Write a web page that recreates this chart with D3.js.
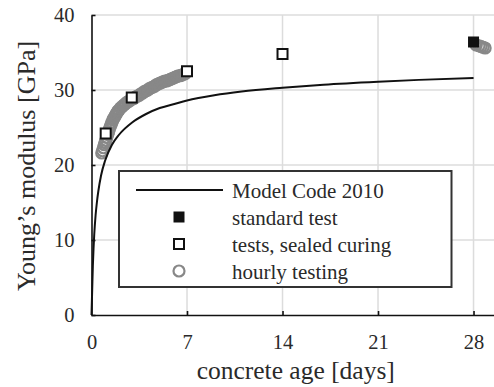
<!DOCTYPE html>
<html>
<head>
<meta charset="utf-8">
<script src="https://cdn.jsdelivr.net/npm/d3@7"></script>
<style>
  body { margin: 0; background: #fff; }
  svg { display: block; }
  text { font-family: "Liberation Serif", "Times New Roman", serif; fill: #2a2a2a; }
</style>
</head>
<body>
<div id="chart"></div>
<script>
// Model Code 2010 curve
const mcDays = [0, 0.05, 0.1, 0.15, 0.2, 0.3, 0.4, 0.5, 0.7, 1, 1.5, 2, 3, 4, 5, 6, 7, 9, 11, 14, 17, 21, 24, 28];
const mcE = [0, 3.3, 6.6, 8.9, 10.7, 13.3, 15.1, 16.5, 18.6, 20.6, 22.7, 24.0, 25.7, 26.8, 27.6, 28.1, 28.6, 29.3, 29.8, 30.3, 30.7, 31.1, 31.35, 31.6];

// standard test (filled square)
const stdDays = [28];
const stdE = [36.4];

// tests, sealed curing (open squares)
const sealedDays = [1.04, 2.95, 7, 14];
const sealedE = [24.2, 29.0, 32.5, 34.8];

// hourly testing (open circles)
const hourlyDays = [0.75, 0.81, 0.875, 0.94, 1.0, 1.06, 1.125, 1.19, 1.25, 1.31,
  1.375, 1.44, 1.5, 1.56, 1.625, 1.69, 1.75, 1.81, 1.875, 1.94,
  2.0, 2.125, 2.25, 2.375, 2.5, 2.625, 2.75, 2.875, 3.0, 3.125,
  3.25, 3.375, 3.5, 3.625, 3.75, 3.875, 4.0, 4.125, 4.25, 4.375,
  4.5, 4.625, 4.75, 4.875, 5.0, 5.125, 5.25, 5.375, 5.5, 5.625,
  5.75, 5.875, 6.0, 6.125, 6.25, 6.375, 6.5, 6.625, 6.75, 6.875,
  28.2, 28.4, 28.55, 28.7, 28.85];
const hourlyE = [21.6, 21.9, 22.3, 22.7, 23.0, 23.3, 23.7, 24.1, 24.4, 24.8,
  25.1, 25.4, 25.7, 26.0, 26.2, 26.4, 26.6, 26.8, 27.0, 27.2,
  27.3, 27.6, 27.8, 28.0, 28.2, 28.4, 28.5, 28.7, 28.8, 28.9,
  29.1, 29.2, 29.3, 29.5, 29.6, 29.8, 29.9, 30.0, 30.2, 30.3,
  30.4, 30.5, 30.7, 30.8, 30.9, 31.0, 31.1, 31.2, 31.2, 31.3,
  31.4, 31.5, 31.6, 31.7, 31.8, 31.9, 31.9, 32.0, 32.1, 32.2,
  36.0, 35.9, 35.8, 35.7, 35.6];

const xTicks = [0, 7, 14, 21, 28];
const yTicks = [0, 10, 20, 30, 40];
const legendLabels = ["Model Code 2010", "standard test", "tests, sealed curing", "hourly testing"];

const width = 494;
const height = 387;

const x = d3.scaleLinear().domain([0, 29.5]).range([91.5, 494]);
const y = d3.scaleLinear().domain([0, 40]).range([315, 15]);

const svg = d3.select("#chart")
  .append("svg")
  .attr("width", width)
  .attr("height", height);

// grid
svg.append("g")
  .selectAll("line")
  .data(xTicks.slice(1))
  .join("line")
  .attr("x1", d => x(d)).attr("x2", d => x(d))
  .attr("y1", y(40)).attr("y2", y(0))
  .attr("stroke", "#dcdcdc")
  .attr("stroke-width", 1.5);

svg.append("g")
  .selectAll("line")
  .data(yTicks.slice(1))
  .join("line")
  .attr("x1", x(0)).attr("x2", width)
  .attr("y1", d => y(d)).attr("y2", d => y(d))
  .attr("stroke", "#dcdcdc")
  .attr("stroke-width", 1.5);

// axes (ticks inside)
const xAxis = svg.append("g")
  .attr("transform", `translate(0,${y(0)})`)
  .call(d3.axisBottom(x).tickValues(xTicks).tickSize(-4).tickPadding(19).tickSizeOuter(0));

const yAxis = svg.append("g")
  .attr("transform", `translate(${x(0)},0)`)
  .call(d3.axisLeft(y).tickValues(yTicks).tickSize(-4).tickPadding(17).tickSizeOuter(0));

[xAxis, yAxis].forEach(ax => {
  ax.select(".domain").attr("stroke", "#111").attr("stroke-width", 1.6);
  ax.selectAll(".tick line").attr("stroke", "#111").attr("stroke-width", 1.6);
  ax.selectAll(".tick text")
    .style("font-family", "'Liberation Serif', serif")
    .style("font-size", "20.5px")
    .attr("fill", "#2a2a2a");
});
xAxis.select(".domain").attr("d", `M${x(0)},0.5H${width}`);
xAxis.select(".tick line").remove();

// hourly circles
svg.append("g")
  .selectAll("circle")
  .data(hourlyDays.map((d, i) => [d, hourlyE[i]]))
  .join("circle")
  .attr("cx", d => x(d[0]))
  .attr("cy", d => y(d[1]))
  .attr("r", 5.5)
  .attr("fill", "none")
  .attr("stroke", "#888")
  .attr("stroke-width", 2.2);

// model code curve
const line = d3.line()
  .x(d => x(d[0]))
  .y(d => y(d[1]))
  .curve(d3.curveMonotoneX);

svg.append("path")
  .datum(mcDays.map((d, i) => [d, mcE[i]]))
  .attr("d", line)
  .attr("fill", "none")
  .attr("stroke", "#111")
  .attr("stroke-width", 2);

// sealed curing squares
svg.append("g")
  .selectAll("rect")
  .data(sealedDays.map((d, i) => [d, sealedE[i]]))
  .join("rect")
  .attr("x", d => x(d[0]) - 5)
  .attr("y", d => y(d[1]) - 5)
  .attr("width", 10)
  .attr("height", 10)
  .attr("fill", "#fff")
  .attr("stroke", "#111")
  .attr("stroke-width", 2);

// standard test
svg.append("g")
  .selectAll("rect")
  .data(stdDays.map((d, i) => [d, stdE[i]]))
  .join("rect")
  .attr("x", d => x(d[0]) - 5.5)
  .attr("y", d => y(d[1]) - 5.5)
  .attr("width", 11)
  .attr("height", 11)
  .attr("fill", "#111");

// axis titles
svg.append("text")
  .attr("x", (x(0) + width) / 2 + 3)
  .attr("y", 379)
  .attr("text-anchor", "middle")
  .style("font-size", "25.5px")
  .text("concrete age [days]");

svg.append("text")
  .attr("transform", `translate(35,${(y(0) + y(40)) / 2 + 1}) rotate(-90)`)
  .attr("text-anchor", "middle")
  .style("font-size", "26px")
  .text("Young\u2019s modulus [GPa]");

// legend
const legend = svg.append("g");
legend.append("rect")
  .attr("x", 119)
  .attr("y", 171)
  .attr("width", 332.5)
  .attr("height", 116)
  .attr("fill", "#fff")
  .attr("stroke", "#333")
  .attr("stroke-width", 2);

const rowY = [190, 217, 244, 271];
const markX = 179;

legend.append("line")
  .attr("x1", 136).attr("x2", 223)
  .attr("y1", rowY[0]).attr("y2", rowY[0])
  .attr("stroke", "#111")
  .attr("stroke-width", 2);

legend.append("rect")
  .attr("x", markX - 5.5).attr("y", rowY[1] - 5.5)
  .attr("width", 11).attr("height", 11)
  .attr("fill", "#111");

legend.append("rect")
  .attr("x", markX - 5).attr("y", rowY[2] - 5)
  .attr("width", 10).attr("height", 10)
  .attr("fill", "#fff")
  .attr("stroke", "#111")
  .attr("stroke-width", 2);

legend.append("circle")
  .attr("cx", markX).attr("cy", rowY[3])
  .attr("r", 5.5)
  .attr("fill", "none")
  .attr("stroke", "#888")
  .attr("stroke-width", 2.2);

legend.selectAll("text.lbl")
  .data(legendLabels)
  .join("text")
  .attr("class", "lbl")
  .attr("x", 232)
  .attr("y", (d, i) => rowY[i] + 7.5)
  .style("font-size", "21px")
  .text(d => d);
</script>
</body>
</html>
